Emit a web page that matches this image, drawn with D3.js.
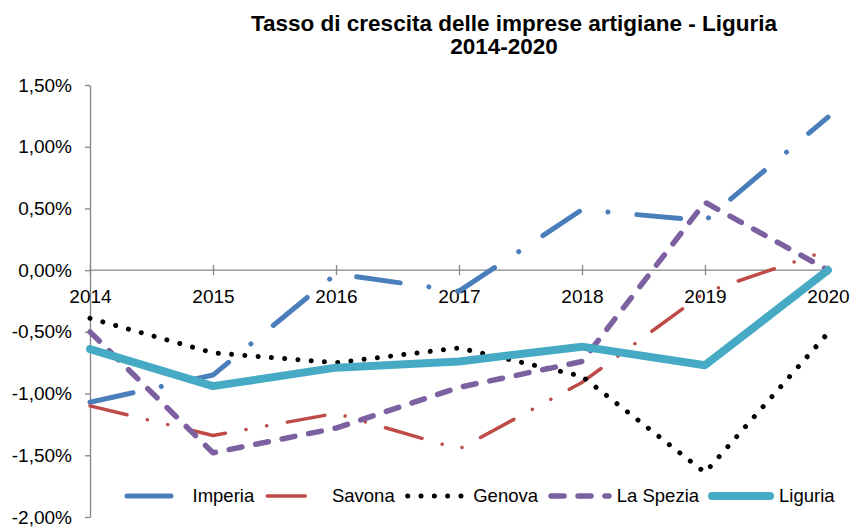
<!DOCTYPE html>
<html>
<head>
	<title>Tasso di crescita delle imprese artigiane - Liguria</title>
	<script type="text/javascript" src="https://d3js.org/d3.v7.min.js"></script>
	<style>
		body{ margin: 0; background: #fff; }
		.chart text{
			font-family: "Liberation Sans", Arial, sans-serif;
			fill: #000;
		}
		.title{ font-size: 22.5px; font-weight: bold; text-anchor: middle; }
		.axis path, .axis line{ stroke: #868686; stroke-width: 1.3; }
		.axis text{ font-size: 19px; }
		.legend text{ font-size: 18.5px; }
		.serie{ fill: none; stroke-linecap: round; stroke-linejoin: round; }
	</style>
</head>
<body>
<svg class="chart"></svg>

<script type="text/javascript">
// Valori (tasso di crescita, in %)
	var anni = ["2014", "2015", "2016", "2017", "2018", "2019", "2020"];

	var imperia  = [-1.07, -0.85, -0.03, -0.17, 0.49, 0.40, 1.24];
	var savona   = [-1.10, -1.34, -1.16, -1.45, -0.91, -0.18, 0.16];
	var genova   = [-0.39, -0.67, -0.75, -0.63, -0.86, -1.64, -0.51];
	var laSpezia = [-0.50, -1.48, -1.28, -0.95, -0.74, 0.55, 0.00];
	var liguria  = [-0.64, -0.94, -0.79, -0.74, -0.62, -0.77, 0.00];

	var nomi = ["Imperia", "Savona", "Genova", "La Spezia", "Liguria"];
	var tickY = [1.5, 1.0, 0.5, 0.0, -0.5, -1.0, -1.5, -2.0];

	var width = 850,
		height = 528;

	// stile di ogni serie
	var serie = [
		{ nome: nomi[0], valori: imperia,  colore: "#4A7EBB", spessore: 5,   dash: "44,29,0.01,29" },
		{ nome: nomi[1], valori: savona,   colore: "#BE4B48", spessore: 3.5, dash: "38,21,0.01,21,0.01,21" },
		{ nome: nomi[2], valori: genova,   colore: "#000000", spessore: 5,   dash: "0.01,13.3" },
		{ nome: nomi[3], valori: laSpezia, colore: "#7D60A0", spessore: 5.5, dash: "13,14" },
		{ nome: nomi[4], valori: liguria,  colore: "#46AAC5", spessore: 8,   dash: null }
	];

	var svg = d3.select(".chart")
		.attr("width", width)
		.attr("height", height);

	var x = d3.scalePoint()
		.domain(anni)
		.range([90, 828]);

	var y = d3.scaleLinear()
		.domain([-2, 1.5])
		.range([517, 85]);

	// formato italiano: 1,50%
	var it = d3.formatLocale({ decimal: ",", thousands: ".", grouping: [3], currency: ["", " €"], minus: "-" });
	var fmt = it.format(".2%");

	// Titolo
	svg.append("text").attr("class", "title")
		.attr("x", 514).attr("y", 31)
		.text("Tasso di crescita delle imprese artigiane - Liguria");
	svg.append("text").attr("class", "title")
		.attr("x", 504).attr("y", 54)
		.text("2014-2020");

	// Asse Y
	svg.append("g")
		.attr("class", "axis")
		.attr("transform", "translate(90,0)")
		.call(d3.axisLeft(y)
			.tickValues(tickY)
			.tickFormat(function(d){ return fmt(d / 100); })
			.tickSize(5)
			.tickSizeOuter(0)
			.tickPadding(13));

	// Asse X sullo zero, tacche che attraversano la linea
	var assex = svg.append("g")
		.attr("class", "axis")
		.attr("transform", "translate(0," + y(0) + ")")
		.call(d3.axisBottom(x)
			.tickSize(5)
			.tickSizeOuter(0)
			.tickPadding(14));
	assex.select(".domain").attr("d", "M90,0H828");
	assex.selectAll(".tick line").attr("y1", -5);
	assex.selectAll(".tick text").attr("dy", "0.71em");

	// Linee
	var linea = d3.line()
		.x(function(d, i){ return x(anni[i]); })
		.y(function(d){ return y(d); });

	svg.selectAll(".serie")
		.data(serie)
	  .enter().append("path")
		.attr("class", "serie")
		.attr("d", function(s){ return linea(s.valori); })
		.attr("stroke", function(s){ return s.colore; })
		.attr("stroke-width", function(s){ return s.spessore; })
		.attr("stroke-dasharray", function(s){ return s.dash; });

	// Legenda
	var legenda = svg.append("g").attr("class", "legend");
	var lx = 127, ly = 496, campione = 58;
	serie.forEach(function(s){
		legenda.append("line")
			.attr("class", "serie")
			.attr("x1", lx).attr("x2", lx + campione)
			.attr("y1", ly).attr("y2", ly)
			.attr("stroke", s.colore)
			.attr("stroke-width", s.spessore)
			.attr("stroke-dasharray", s.dash);
		var t = legenda.append("text")
			.attr("x", lx + campione + s.spessore / 2 + 5)
			.attr("y", ly)
			.attr("dy", "0.35em")
			.text(s.nome);
		lx += campione + s.spessore / 2 + 5 + t.node().getComputedTextLength() + 13;
	});

</script>
</body>
</html>
